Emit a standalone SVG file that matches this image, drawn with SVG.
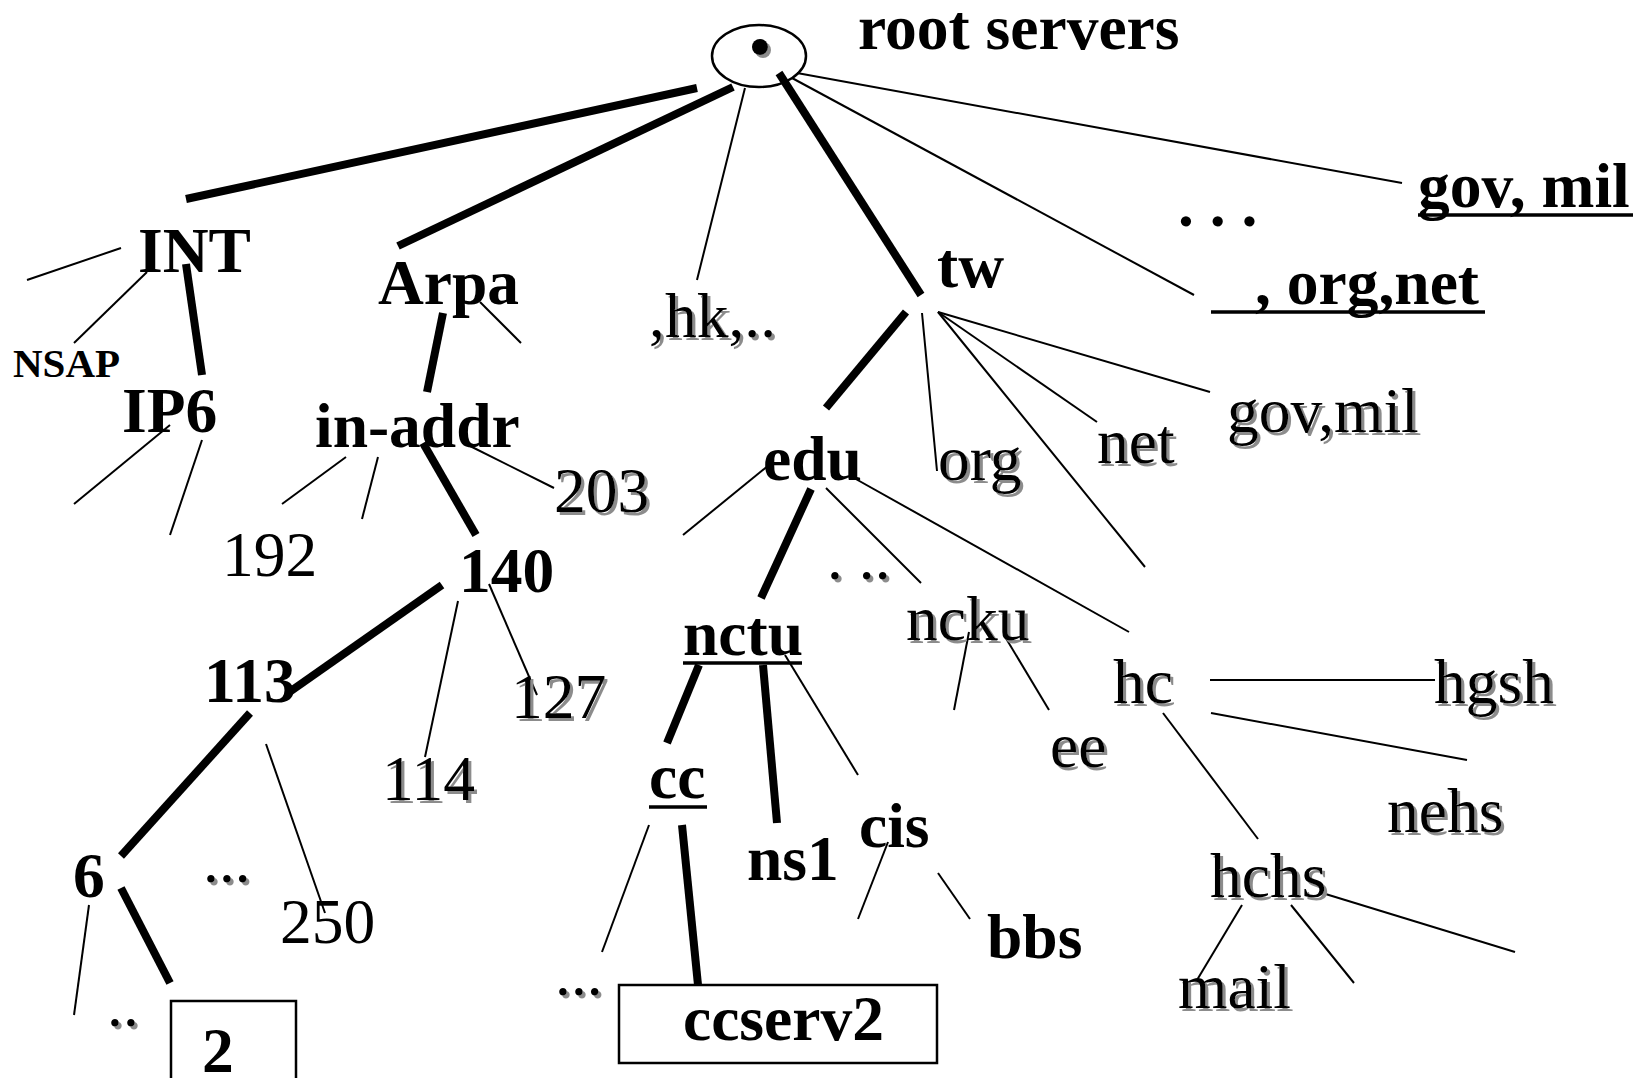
<svg xmlns="http://www.w3.org/2000/svg" width="1648" height="1078" viewBox="0 0 1648 1078">
<defs>
<style>
text{font-family:"Liberation Serif","Times New Roman",serif;font-size:63.5px;fill:#000}
.b{font-weight:bold}
.sh{filter:url(#shadow)}
.thick{stroke:#000;stroke-width:8;stroke-linecap:butt;fill:none}
.thin{stroke:#000;stroke-width:2;fill:none}
.ul{stroke:#000;stroke-width:3.5}
.box{fill:#fff;stroke:#000;stroke-width:2.5}
</style>
<filter id="shadow" x="-10%" y="-10%" width="130%" height="140%">
<feDropShadow dx="3" dy="3" stdDeviation="0.6" flood-color="#8c8c8c" flood-opacity="1"/>
</filter>
</defs>
<rect width="1648" height="1078" fill="#fff"/>
<g id="connectors">
<line class="thick" x1="697" y1="88" x2="186" y2="199"/>
<line class="thick" x1="733" y1="87" x2="398" y2="246"/>
<line class="thick" x1="779" y1="73" x2="921" y2="295"/>
<line class="thick" x1="186" y1="264" x2="202" y2="375"/>
<line class="thick" x1="443" y1="313" x2="427" y2="392"/>
<line class="thick" x1="423" y1="443" x2="476" y2="535"/>
<line class="thick" x1="442" y1="585" x2="288" y2="693"/>
<line class="thick" x1="250" y1="713" x2="121" y2="856"/>
<line class="thick" x1="121" y1="888" x2="170" y2="983"/>
<line class="thick" x1="906" y1="312" x2="826" y2="408"/>
<line class="thick" x1="811" y1="489" x2="761" y2="598"/>
<line class="thick" x1="699" y1="665" x2="667" y2="743"/>
<line class="thick" x1="763" y1="665" x2="777" y2="823"/>
<line class="thick" x1="682" y1="825" x2="698" y2="985"/>
<line class="thin" x1="745" y1="88" x2="697" y2="280"/>
<line class="thin" x1="792" y1="78" x2="1194" y2="295"/>
<line class="thin" x1="797" y1="73" x2="1402" y2="183"/>
<line class="thin" x1="27" y1="280" x2="121" y2="248"/>
<line class="thin" x1="147" y1="272" x2="74" y2="343"/>
<line class="thin" x1="480" y1="302" x2="521" y2="343"/>
<line class="thin" x1="170" y1="425" x2="74" y2="504"/>
<line class="thin" x1="202" y1="440" x2="170" y2="535"/>
<line class="thin" x1="346" y1="457" x2="282" y2="504"/>
<line class="thin" x1="378" y1="457" x2="362" y2="519"/>
<line class="thin" x1="468" y1="445" x2="554" y2="488"/>
<line class="thin" x1="458" y1="601" x2="425" y2="757"/>
<line class="thin" x1="489" y1="584" x2="537" y2="695"/>
<line class="thin" x1="266" y1="744" x2="325" y2="913"/>
<line class="thin" x1="89" y1="905" x2="74" y2="1015"/>
<line class="thin" x1="922" y1="313" x2="937" y2="471"/>
<line class="thin" x1="938" y1="312" x2="1210" y2="392"/>
<line class="thin" x1="938" y1="312" x2="1097" y2="422"/>
<line class="thin" x1="938" y1="312" x2="1145" y2="567"/>
<line class="thin" x1="769" y1="465" x2="683" y2="535"/>
<line class="thin" x1="826" y1="488" x2="921" y2="583"/>
<line class="thin" x1="854" y1="478" x2="1129" y2="632"/>
<line class="thin" x1="969" y1="632" x2="954" y2="710"/>
<line class="thin" x1="1004" y1="635" x2="1049" y2="710"/>
<line class="thin" x1="785" y1="655" x2="858" y2="775"/>
<line class="thin" x1="1210" y1="680" x2="1435" y2="680"/>
<line class="thin" x1="1163" y1="713" x2="1258" y2="839"/>
<line class="thin" x1="1211" y1="713" x2="1467" y2="760"/>
<line class="thin" x1="1319" y1="892" x2="1515" y2="952"/>
<line class="thin" x1="1242" y1="905" x2="1197" y2="980"/>
<line class="thin" x1="1291" y1="905" x2="1354" y2="983"/>
<line class="thin" x1="649" y1="825" x2="602" y2="952"/>
<line class="thin" x1="888" y1="842" x2="858" y2="919"/>
<line class="thin" x1="938" y1="873" x2="970" y2="919"/>
</g>
<g id="root">
<ellipse cx="759" cy="56" rx="47" ry="31" fill="none" stroke="#000" stroke-width="2.5"/>
<circle class="sh" cx="760" cy="47" r="8" fill="#000"/>
<text class="b" x="858" y="49">root servers</text>
</g>
<g id="n-int"><text class="b" x="138" y="272">INT</text></g>
<g id="n-nsap"><text class="b" x="13" y="377" style="font-size:41px">NSAP</text></g>
<g id="n-ip6"><text class="b" x="122" y="432">IP6</text></g>
<g id="n-arpa"><text class="b" x="378" y="304">Arpa</text></g>
<g id="n-inaddr"><text class="b" x="315" y="447">in-addr</text></g>
<g id="n-192"><text x="222" y="576">192</text></g>
<g id="n-203"><text class="sh" x="554" y="512">203</text></g>
<g id="n-140"><text class="b" x="459" y="592">140</text></g>
<g id="n-113"><text class="b" x="204" y="702">113</text></g>
<g id="n-127"><text class="sh" x="511" y="718">127</text></g>
<g id="n-114"><text class="sh" x="382" y="800">114</text></g>
<g id="n-250"><text x="280" y="943">250</text></g>
<g id="n-6"><text class="b" x="73" y="897">6</text></g>
<g id="n-dots6"><text class="sh" x="203" y="882">...</text></g>
<g id="n-dots2"><text class="sh" x="107" y="1026">..</text></g>
<g id="n-2"><rect class="box" x="171" y="1001" width="125" height="90"/><text class="b" x="202" y="1072">2</text></g>
<g id="n-hk"><text class="sh" x="649" y="337">,hk,..</text></g>
<g id="n-tw"><text class="b" x="937" y="287">tw</text></g>
<g id="n-govmil1"><text class="b" x="1418" y="207">gov, mil</text><line class="ul" x1="1418" y1="215" x2="1633" y2="215"/></g>
<g id="n-dotsTop"><text class="b" x="1178" y="226">. . .</text></g>
<g id="n-orgnet"><text class="b" x="1255" y="304">, org,net</text><line class="ul" x1="1211" y1="312" x2="1485" y2="312"/></g>
<g id="n-edu"><text class="b" x="763" y="480">edu</text></g>
<g id="n-org"><text class="sh" x="938" y="480">org</text></g>
<g id="n-net"><text class="sh" x="1097" y="463">net</text></g>
<g id="n-govmil2"><text class="sh" x="1227" y="432">gov,mil</text></g>
<g id="n-dotsEdu"><text class="sh" x="827" y="579">. ..</text></g>
<g id="n-nctu"><text class="b" x="683" y="655">nctu</text><line class="ul" x1="683" y1="663" x2="802" y2="663"/></g>
<g id="n-ncku"><text class="sh" x="906" y="640">ncku</text></g>
<g id="n-ee"><text class="sh" x="1050" y="767">ee</text></g>
<g id="n-hc"><text class="sh" x="1113" y="703">hc</text></g>
<g id="n-hgsh"><text class="sh" x="1434" y="703">hgsh</text></g>
<g id="n-nehs"><text class="sh" x="1387" y="832">nehs</text></g>
<g id="n-hchs"><text class="sh" x="1210" y="897">hchs</text></g>
<g id="n-mail"><text class="sh" x="1178" y="1008">mail</text></g>
<g id="n-cc"><text class="b" x="649" y="798">cc</text><line class="ul" x1="649" y1="807" x2="707" y2="807"/></g>
<g id="n-ns1"><text class="b" x="747" y="880">ns1</text></g>
<g id="n-cis"><text class="b" x="859" y="847">cis</text></g>
<g id="n-bbs"><text class="b" x="987" y="958">bbs</text></g>
<g id="n-dotscc"><text class="sh" x="555" y="995">...</text></g>
<g id="n-ccserv2"><rect class="box" x="619" y="985" width="318" height="78"/><text class="b" x="683" y="1040">ccserv2</text></g>
</svg>
